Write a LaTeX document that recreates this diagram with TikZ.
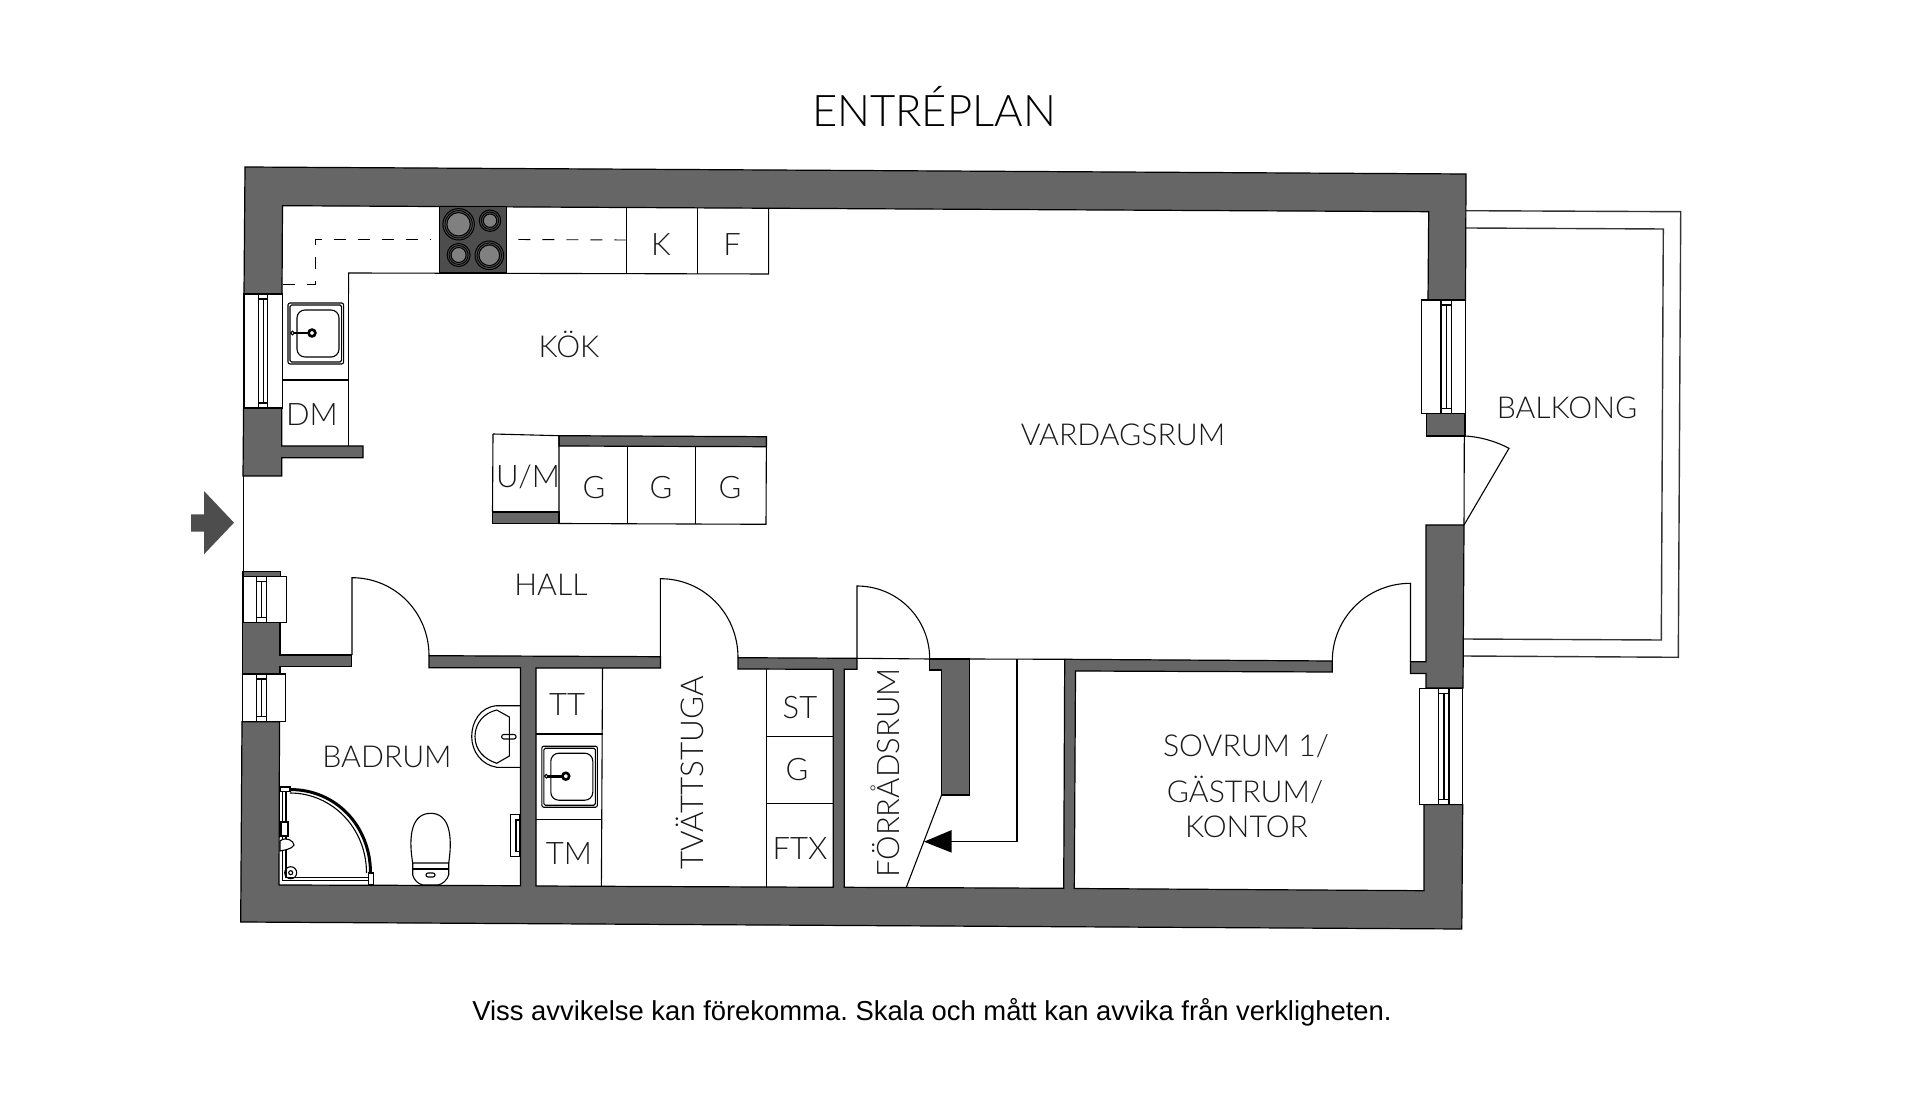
\documentclass[tikz,border=0pt]{standalone}
\usepackage{fontspec}
\setmainfont{Lato}[UprightFont=* Light]
\newfontfamily\notefont{Liberation Sans}
\definecolor{wallc}{HTML}{666666}
\definecolor{arrowc}{HTML}{4D4D4D}
\definecolor{ringc}{HTML}{808080}
\tikzset{
  wall/.style={fill=wallc,draw=black,line width=0.6pt,line join=miter},
  thin/.style={draw=black,line width=0.55pt},
  fix/.style={draw=black,line width=0.55pt,fill=white},
  gline/.style={draw=black!80,line width=0.7pt},
  lbl/.style={inner sep=0pt,text=black!90,font=\fontsize{15.1}{18}\selectfont},
  cab/.style={inner sep=0pt,text=black!90,font=\fontsize{15.5}{18}\selectfont},
  ring/.style={draw=black,line width=0.5pt,fill=ringc},
  ringo/.style={draw=black,line width=0.5pt,fill=arrowc}
}
\newcommand{\winblock}[6]{%
  \draw[fix] (#1,#2) rectangle (#3,#4);
  \draw[fix] (#5,#2) rectangle (#6,#4);
  \draw[thin] ($(#5,#2)+(0,5)$) -- ($(#6,#2)+(0,5)$);
  \draw[thin] ($(#5,#4)+(0,-5)$) -- ($(#6,#4)+(0,-5)$);
  \draw[thin] ($(#5,#2)!0.5!(#6,#2)+(0,5)$) -- ($(#5,#4)!0.5!(#6,#4)+(0,-5)$);
}
\newcommand{\sinkunit}[2]{%
  \begin{scope}[shift={(#1,#2)}]
    \draw[thin,rounded corners=1pt] (288,303) rectangle (343.6,364);
    \draw[thin,rounded corners=0.8pt] (290,305) rectangle (341.6,362);
    \draw[thin,rounded corners=4pt] (297,310) rectangle (339,357);
    \draw[draw=black,line width=1.3pt] (293,333) -- (312,333);
    \draw[fix] (292.5,333) circle (1.8);
    \draw[draw=black,fill=white,line width=1.3pt] (312,333) circle (3.4);
  \end{scope}
}
\usetikzlibrary{calc}
\begin{document}
\frenchspacing
\begin{tikzpicture}[x=0.5pt,y=-0.5pt]
\useasboundingbox (0,0) rectangle (1920,1095);
\fill[white] (0,0) rectangle (1920,1095);

% balcony
\draw[gline] (1466,210.7) -- (1680.7,211.7) -- (1678.3,657.3) -- (1463.3,656);
\draw[gline] (1466,228) -- (1663.3,229) -- (1661.3,640) -- (1463.3,639);

% walls
\draw[wall] (245,167) -- (1466,174) -- (1465.5,300) -- (1428,300) -- (1428.7,211.7) -- (282.5,205.7) -- (282,294) -- (244,294) -- cycle;
\draw[wall] (1426.7,413.5) -- (1465,413.5) -- (1465,436) -- (1426.7,436) -- cycle;
\draw[wall] (1426,525) -- (1464,525) -- (1463,688) -- (1426,688) -- (1426,673.5) -- (1410.5,673.5) -- (1410.5,661.7) -- (1426,661.7) -- cycle;
\draw[wall] (243.6,408) -- (281.8,408) -- (281.8,446) -- (363,446) -- (363,457.7) -- (281.8,457.7) -- (281.8,476) -- (243,476) -- cycle;
\draw[wall] (243,571.7) -- (280.7,571.7) -- (280.7,576.7) -- (243,576.7) -- cycle;
\draw[wall] (242.5,622.7) -- (280,622.7) -- (280,655) -- (351.4,655) -- (351.4,666.7) -- (280,666.7) -- (280,674) -- (242.5,674) -- cycle;
\draw[wall] (242,721.7) -- (279.5,721.7) -- (279,885) -- (520.4,885.7) -- (520.4,667.7) -- (429,667.7) -- (429,655.7) -- (660.4,656.7) -- (660.4,668) -- (536,668) -- (536,886) -- (833.3,887.3) -- (833.3,669.3) -- (738,669) -- (738,657.7) -- (857,658.3) -- (857,669.3) -- (844.3,669.3) -- (844.3,887.3) -- (1063.7,888.3) -- (1064.7,659.3) -- (1332.3,661) -- (1332.3,672) -- (1075.5,671) -- (1074.3,888.5) -- (1424,890.7) -- (1424,804.5) -- (1462.7,804.5) -- (1461.8,929) -- (240.7,922) -- cycle;
\draw[wall] (929.7,659) -- (969.6,659) -- (969.6,795) -- (941.6,795) -- (941.6,670) -- (929.7,670) -- cycle;

% thin lines on openings
\draw[thin] (243.3,476) -- (243.3,571.7);
\draw[thin] (1464.3,436) -- (1464,525);
\draw[thin] (857,658.3) -- (929.7,659);
\draw[thin] (969.6,659) -- (1064.7,659.3);
\draw[thin] (941.6,795) -- (906.3,887.3);

% windows
\winblock{244}{294}{282.5}{408}{258.6}{267.5}
\winblock{243}{576.7}{286.4}{622.7}{256.8}{266.8}
\winblock{242.5}{674}{285.4}{721.7}{256.8}{266.8}
\winblock{1421.7}{300}{1465.7}{413.5}{1441}{1451.7}
\winblock{1419.6}{688.3}{1462.7}{804.5}{1438.9}{1449}

% doors
\draw[thin] (352,655) -- (352,577.7) .. controls (394.5,577.7) and (429,612) .. (429,655.7);
\draw[thin] (660.4,656.7) -- (660.4,578.7) .. controls (703.5,578.7) and (738,613.5) .. (738,657.7);
\draw[thin] (857,658.3) -- (857,586) .. controls (897,586) and (929.7,618) .. (929.7,659);
\draw[thin] (1410.5,661.7) -- (1410.5,583.3) .. controls (1367,583.3) and (1332.3,618) .. (1332.3,661);
\draw[thin] (1464,525) -- (1509,448.3) .. controls (1497,442) and (1482,437) .. (1465,436);

% kitchen counter
\draw[thin] (348.6,294) -- (348.6,273) -- (768.6,274) -- (768.6,208);
\draw[thin] (626.4,208) -- (626.4,273.7);
\draw[thin] (697.9,208) -- (697.9,273.9);
\draw[thin] (348.6,273) -- (348.6,446);
\draw[thin] (282.5,380) -- (348.6,380);
\draw[draw=black,line width=0.45pt,dash pattern=on 6pt off 6pt] (282.5,284) -- (315.7,284) -- (315.7,239) -- (430,239);
\draw[draw=black,line width=0.45pt,dash pattern=on 6pt off 6pt] (626.4,240) -- (512,239.5);
\fill[arrowc,draw=black,line width=0.5pt] (439,207) rectangle (506,273);
\foreach \cx/\cy/\r in {458.6/224.3/15.7,490/220.7/10.7,458.6/255/11.5,489.3/255.3/14.3}{
  \draw[ringo] (\cx,\cy) circle (\r);
  \draw[draw=black,line width=0.4pt] (\cx,\cy) circle (\r-2);
  \draw[ring] (\cx,\cy) circle (\r-4);
}
\sinkunit{0}{0}

% island
\draw[thin] (493,434) -- (559,435.7);
\draw[thin] (493,434) -- (492.5,512);
\draw[wall] (559,435.7) -- (766.4,436.7) -- (766.4,446.7) -- (559,446) -- cycle;
\draw[wall] (492.5,512) -- (559,512) -- (559,523.5) -- (492.5,523.5) -- cycle;
\draw[thin] (559,435.7) -- (559,523.5) -- (766,524.3) -- (766.4,436.7);
\draw[thin] (627.5,446) -- (627.5,524);
\draw[thin] (695.4,446.5) -- (695.4,524);

% laundry cabinets
\draw[thin] (602.5,668) -- (601.4,886.5);
\draw[thin] (536,734) -- (602.5,734);
\draw[thin] (536,819.3) -- (601.8,819.3);
\draw[thin] (766.8,669) -- (766.8,887);
\draw[thin] (766.8,736.7) -- (833.3,736.7);
\draw[thin] (766.8,803.3) -- (833.3,803.3);
\sinkunit{253.8}{443.2}

% bathroom fixtures
\draw[thin] (520,705.7) -- (496.7,705.7) .. controls (480,707) and (471.7,722) .. (471.7,736.5) .. controls (471.7,752) and (482,765) .. (496.7,767.3) -- (520,767.3);
\draw[thin] (496.7,710) -- (509.3,717) -- (509.3,756) -- (496.7,763.3) .. controls (484,759) and (475,750) .. (475,736.5) .. controls (475,723) and (484,713) .. (496.7,710);
\draw[thin,rounded corners=1pt] (501.7,734.5) rectangle (516,739);
\draw[thin] (510.7,814.3) rectangle (519.3,856.7);
\draw[thin] (516,820) rectangle (519.3,851.7);
% toilet
\draw[thin] (412.7,863) .. controls (408,835) and (412,813.3) .. (430.7,813.3) .. controls (449,813.3) and (453,835) .. (448.7,863);
\draw[thin] (412.7,863) -- (448.7,863) -- (448.7,875) .. controls (447,880) and (443,884) .. (438,885) -- (423,885) .. controls (418,884) and (414,880) .. (412.7,875) -- cycle;
\draw[thin] (412.7,869) -- (448.7,869);
\draw[thin,rounded corners=1pt] (426,873) rectangle (435,877);
% shower
\draw[draw=black,line width=1.5pt] (290,789.5) .. controls (336,789.5) and (370.5,826) .. (370.5,873);
\draw[thin] (290,793) .. controls (332,793) and (366.5,828) .. (366.5,873);
\draw[fix] (280,787) rectangle (290,791.5);
\draw[thin] (282.7,792) -- (282.7,880.7) -- (369,880.7);
\draw[thin] (286,792) -- (286,877.5) -- (368,877.5);
\draw[fix] (368.5,873) rectangle (373.5,885);
\draw[thin] (290.7,872.7) circle (6);
\draw[thin] (290.7,872.7) circle (2);
\draw[fix] (281,822) rectangle (288,836);
\draw[fix] (280,841) .. controls (286,836) and (294,841) .. (294,845) .. controls (292,849) and (285,850) .. (280,851) -- cycle;

% entrance arrow
\fill[arrowc] (191,514.3) -- (204,514.3) -- (204,491) -- (234,522.7) -- (204,554.3) -- (204,531.7) -- (191,531.7) -- cycle;

% stair line and arrow
\coordinate (stairtop) at (1017,659);
\coordinate (stairturn) at (1017,841.7);
\coordinate (stairend) at (924,841.7);
\draw[thin,-] (stairtop) -- (stairturn) -- (951,841.7);
\fill[black] (stairend) -- (951.7,830) -- (951.7,852.7) -- cycle;

% labels
\node[inner sep=0pt,font=\fontsize{21.8}{26}\selectfont] (title) at (934,106.5) {ENTRÉPLAN};
\node[lbl] (kok) at (569,344) {KÖK};
\node[cab] (k) at (661,245) {K};
\node[cab] (f) at (732,245) {F};
\node[cab] (dm) at (312,414.5) {DM};
\node[cab] (um) at (528,476.5) {U/M};
\node[cab] (g1) at (594,487.5) {G};
\node[cab] (g2) at (661,487.5) {G};
\node[cab] (g3) at (730,487.5) {G};
\node[lbl] (vard) at (1123,435) {VARDAGSRUM};
\node[lbl] (balk) at (1567,408) {BALKONG};
\node[lbl] (hall) at (551,584.5) {HALL};
\node[lbl] (bad) at (387,757) {BADRUM};
\node[cab] (tt) at (567,704.5) {TT};
\node[cab] (tm) at (569,853.5) {TM};
\node[lbl,rotate=90,font=\fontsize{15.7}{18}\selectfont] (tvatt) at (690,773) {TVÄTTSTUGA};
\node[cab] (st) at (800,708) {ST};
\node[cab] (g4) at (797,770) {G};
\node[cab] (ftx) at (800,848.5) {FTX};
\node[lbl,rotate=90,font=\fontsize{15.5}{18}\selectfont] (forrad) at (885.5,773) {FÖRRÅDSRUM};
\node[lbl] (sov) at (1246,746) {SOVRUM 1/};
\node[lbl] (gast) at (1245,790) {GÄSTRUM/};
\node[lbl] (kont) at (1246.5,826.5) {KONTOR};
\node[inner sep=0pt,font=\notefont\fontsize{13.7}{16}\selectfont] (note) at (932,1012.5) {Viss avvikelse kan förekomma. Skala och mått kan avvika från verkligheten.};
\end{tikzpicture}
\end{document}
